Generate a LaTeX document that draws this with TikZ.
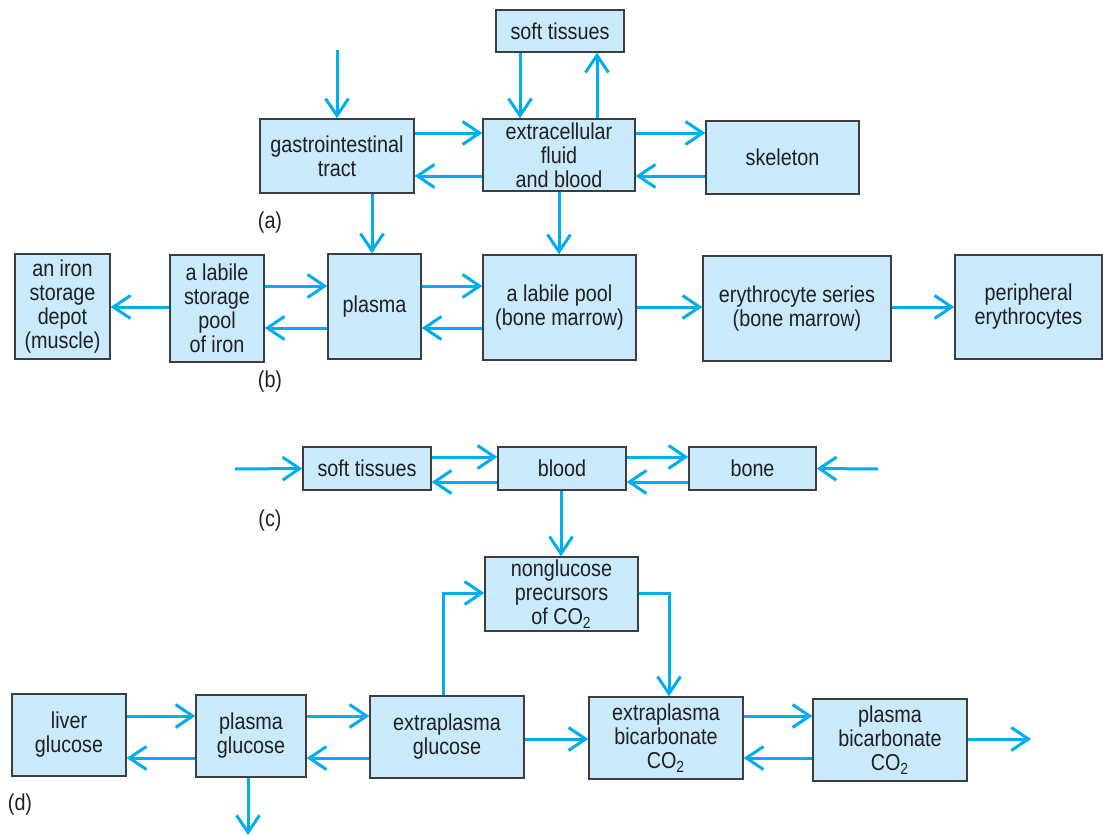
\documentclass[tikz,border=0pt]{standalone}
\usepackage{fontspec}
\setmainfont{Liberation Sans}[FakeStretch=0.86]
\usetikzlibrary{arrows.meta}
\definecolor{flowcyan}{RGB}{0,174,239}
\definecolor{boxfill}{RGB}{200,234,250}
\definecolor{ink}{RGB}{35,31,32}
\definecolor{edge}{RGB}{62,62,64}
\tikzset{
  box/.style={draw=edge, line width=0.75pt, fill=boxfill, text=ink, align=center,
    inner sep=1pt, font=\fontsize{11.5}{12}\selectfont},
  flow/.style={draw=flowcyan, line width=1.5pt,
    -{Straight Barb[length=8.5pt,width=11.5pt]}},
  tag/.style={text=ink, font=\fontsize{11.5}{12}\selectfont},
}
\begin{document}
\begin{tikzpicture}[x=0.5pt,y=-0.5pt]
    \useasboundingbox (0,0) rectangle (1103,835);

    % (a)
    \node[box, minimum width=64pt, minimum height=21pt] (softA) at (560,31) {soft tissues};
    \node[box, minimum width=77pt, minimum height=37pt] (gi) at (337,156) {gastrointestinal\\tract};
    \node[box, minimum width=76pt, minimum height=36pt] (ecf) at (559,155) {extracellular\\fluid\\and blood};
    \node[box, minimum width=76.5pt, minimum height=36.5pt] (skel) at (782.5,157.5) {skeleton};
    \node[tag] (tagA) at (270,223) {(a)};
    \coordinate (inA) at (337,50);

    \draw[flow] (inA) -- (gi.north);
    \draw[flow] (softA.south -| 520,0) -- (ecf.north -| 520,0);
    \draw[flow] (ecf.north -| 597,0) -- (softA.south -| 597,0);
    \draw[flow] (gi.east |- 0,133) -- (ecf.west |- 0,133);
    \draw[flow] (ecf.west |- 0,176) -- (gi.east |- 0,176);
    \draw[flow] (ecf.east |- 0,133) -- (skel.west |- 0,133);
    \draw[flow] (skel.west |- 0,176) -- (ecf.east |- 0,176);

    % (b)
    \node[box, minimum width=47.5pt, minimum height=52.5pt] (depot) at (62.5,306.5) {an iron\\storage\\depot\\(muscle)};
    \node[box, minimum width=47pt, minimum height=53.5pt] (pool) at (217,308.5) {a labile\\storage\\pool\\of iron};
    \node[box, minimum width=46.5pt, minimum height=52.5pt] (plasma) at (374.5,306.5) {plasma};
    \node[box, minimum width=76.5pt, minimum height=52.5pt] (labile) at (559.5,307.5) {a labile pool\\(bone marrow)};
    \node[box, minimum width=94pt, minimum height=52.5pt] (eryser) at (797,308.5) {erythrocyte series\\(bone marrow)};
    \node[box, minimum width=73.5pt, minimum height=52pt] (periph) at (1028.5,307) {peripheral\\erythrocytes};
    \node[tag] (tagB) at (270,382) {(b)};

    \draw[flow] (gi.south -| 372,0) -- (plasma.north -| 372,0);
    \draw[flow] (ecf.south) -- (labile.north -| ecf.south);
    \draw[flow] (pool.west |- 0,307) -- (depot.east |- 0,307);
    \draw[flow] (pool.east |- 0,286) -- (plasma.west |- 0,286);
    \draw[flow] (plasma.west |- 0,328) -- (pool.east |- 0,328);
    \draw[flow] (plasma.east |- 0,286) -- (labile.west |- 0,286);
    \draw[flow] (labile.west |- 0,328) -- (plasma.east |- 0,328);
    \draw[flow] (labile.east |- 0,307) -- (eryser.west |- 0,307);
    \draw[flow] (eryser.east |- 0,307) -- (periph.west |- 0,307);

    % (c)
    \node[box, minimum width=64pt, minimum height=21.5pt] (softC) at (367,468.5) {soft tissues};
    \node[box, minimum width=64pt, minimum height=21.5pt] (blood) at (562,468.5) {blood};
    \node[box, minimum width=63.5pt, minimum height=21.5pt] (bone) at (752.5,468.5) {bone};
    \node[tag] (tagC) at (270,521) {(c)};
    \coordinate (inSoft) at (235,469);
    \coordinate (inBone) at (878,469);

    \draw[flow] (inSoft) -- (softC.west);
    \draw[flow] (inBone) -- (bone.east);
    \draw[flow] (softC.east |- 0,457) -- (blood.west |- 0,457);
    \draw[flow] (blood.west |- 0,482) -- (softC.east |- 0,482);
    \draw[flow] (blood.east |- 0,457) -- (bone.west |- 0,457);
    \draw[flow] (bone.west |- 0,482) -- (blood.east |- 0,482);

    % (d)
    \node[box, minimum width=76.5pt, minimum height=37pt] (nonglu) at (561.5,594) {nonglucose\\precursors\\of CO\textsubscript{2}};
    \node[box, minimum width=57pt, minimum height=41pt] (liver) at (69,735) {liver\\glucose};
    \node[box, minimum width=55pt, minimum height=41pt] (plglu) at (251,736) {plasma\\glucose};
    \node[box, minimum width=77pt, minimum height=41pt] (exglu) at (447,737) {extraplasma\\glucose};
    \node[box, minimum width=77pt, minimum height=41pt] (exbic) at (666,738) {extraplasma\\bicarbonate\\CO\textsubscript{2}};
    \node[box, minimum width=77pt, minimum height=41pt] (plbic) at (890,740) {plasma\\bicarbonate\\CO\textsubscript{2}};
    \node[tag] (tagD) at (20,805) {(d)};
    \coordinate (outGlu) at (248,835);
    \coordinate (outBic) at (1031,739);

    \draw[flow] (blood.south -| 561,0) -- (nonglu.north -| 561,0);
    \draw[flow] (exglu.north -| 443,0) |- (nonglu.west |- 0,593);
    \draw[flow] (nonglu.east |- 0,593) -| (exbic.north -| 669,0);
    \draw[flow] (liver.east |- 0,716) -- (plglu.west |- 0,716);
    \draw[flow] (plglu.west |- 0,758) -- (liver.east |- 0,758);
    \draw[flow] (plglu.east |- 0,716) -- (exglu.west |- 0,716);
    \draw[flow] (exglu.west |- 0,758) -- (plglu.east |- 0,758);
    \draw[flow] (plglu.south -| outGlu) -- (outGlu);
    \draw[flow] (exglu.east |- 0,739) -- (exbic.west |- 0,739);
    \draw[flow] (exbic.east |- 0,716) -- (plbic.west |- 0,716);
    \draw[flow] (plbic.west |- 0,758) -- (exbic.east |- 0,758);
    \draw[flow] (plbic.east |- 0,739) -- (outBic);
\end{tikzpicture}
\end{document}
